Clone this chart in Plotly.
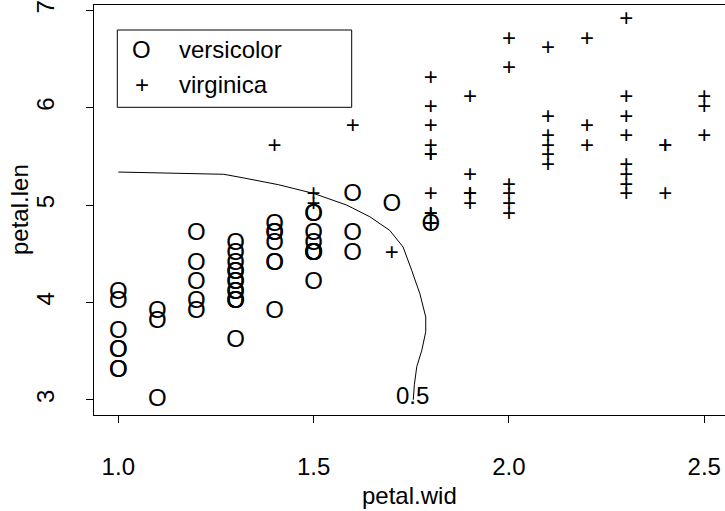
import plotly.graph_objects as go

# iris: versicolor
versicolor_wid = [1.4,1.5,1.5,1.3,1.5,1.3,1.6,1.0,1.3,1.4,1.0,1.5,1.0,1.4,1.3,1.4,1.5,1.0,1.5,1.1,
                  1.8,1.3,1.5,1.2,1.3,1.4,1.4,1.7,1.5,1.0,1.1,1.0,1.2,1.6,1.5,1.6,1.5,1.3,1.3,1.3,
                  1.2,1.4,1.2,1.0,1.3,1.2,1.3,1.3,1.1,1.3]
versicolor_len = [4.7,4.5,4.9,4.0,4.6,4.5,4.7,3.3,4.6,3.9,3.5,4.2,4.0,4.7,3.6,4.4,4.5,4.1,4.5,3.9,
                  4.8,4.0,4.9,4.7,4.3,4.4,4.8,5.0,4.5,3.5,3.8,3.7,3.9,5.1,4.5,4.5,4.7,4.4,4.1,4.0,
                  4.4,4.6,4.0,3.3,4.2,4.2,4.2,4.3,3.0,4.1]
# iris: virginica
virginica_wid = [2.5,1.9,2.1,1.8,2.2,2.1,1.7,1.8,1.8,2.5,2.0,1.9,2.1,2.0,2.4,2.3,1.8,2.2,2.3,1.5,
                 2.3,2.0,2.0,1.8,2.1,1.8,1.8,1.8,2.1,1.6,1.9,2.0,2.2,1.5,1.4,2.3,2.4,1.8,1.8,2.1,
                 2.4,2.3,1.9,2.3,2.5,2.3,1.9,2.0,2.3,1.8]
virginica_len = [6.0,5.1,5.9,5.6,5.8,6.6,4.5,6.3,5.8,6.1,5.1,5.3,5.5,5.0,5.1,5.3,5.5,6.7,6.9,5.0,
                 5.7,4.9,6.7,4.9,5.7,6.0,4.8,4.9,5.6,5.8,6.1,6.4,5.6,5.1,5.6,6.1,5.6,5.5,4.8,5.4,
                 5.6,5.1,5.1,5.9,5.7,5.2,5.0,5.2,5.4,5.1]

# 0.5 probability contour
contour_wid = [1.00,1.10,1.20,1.27,1.32,1.37,1.41,1.45,1.50,1.585,1.644,1.695,1.729,1.751,1.772,
               1.787,1.787,1.777,1.764,1.758,1.755]
contour_len = [5.34,5.33,5.325,5.317,5.28,5.24,5.21,5.17,5.12,5.00,4.88,4.74,4.57,4.33,4.09,
               3.85,3.70,3.51,3.34,3.16,3.00]
contour_level = "0.5"
contour_label_pos = (1.754, 3.04)

x_ticks = [1.0, 1.5, 2.0, 2.5]
x_ticklabels = ["1.0", "1.5", "2.0", "2.5"]
y_ticks = [3, 4, 5, 6, 7]
y_ticklabels = ["3", "4", "5", "6", "7"]

FONT = "Liberation Sans, Arial, Helvetica, sans-serif"
FS = 24

fig = go.Figure()
fig.add_trace(go.Scatter(x=contour_wid, y=contour_len, mode="lines",
                         line=dict(color="black", width=1), showlegend=False, hoverinfo="skip"))
fig.add_trace(go.Scatter(x=versicolor_wid, y=versicolor_len, mode="text", text=["O"] * len(versicolor_wid),
                         textfont=dict(family=FONT, size=FS, color="black"), showlegend=False,
                         name="versicolor"))
fig.add_trace(go.Scatter(x=virginica_wid, y=virginica_len, mode="text", text=["+"] * len(virginica_wid),
                         textfont=dict(family=FONT, size=FS, color="black"), showlegend=False,
                         name="virginica"))

annotations = [
    dict(x=contour_label_pos[0], y=contour_label_pos[1], xref="x", yref="y", text=contour_level,
         showarrow=False, font=dict(family=FONT, size=FS, color="black"), xanchor="center", yanchor="middle"),
    # legend
    dict(x=(141 - 94) / 631, y=(415 - 50) / 410, xref="paper", yref="paper", text="O", showarrow=False,
         font=dict(family=FONT, size=FS, color="black"), xanchor="center", yanchor="middle"),
    dict(x=(141.5 - 94) / 631, y=(415 - 85) / 410, xref="paper", yref="paper", text="+", showarrow=False,
         font=dict(family=FONT, size=FS, color="black"), xanchor="center", yanchor="middle"),
    dict(x=(177 - 94) / 631, y=(415 - 50) / 410, xref="paper", yref="paper", text="versicolor", showarrow=False,
         font=dict(family=FONT, size=FS, color="black"), xanchor="left", yanchor="middle"),
    dict(x=(177 - 94) / 631, y=(415 - 85) / 410, xref="paper", yref="paper", text="virginica", showarrow=False,
         font=dict(family=FONT, size=FS, color="black"), xanchor="left", yanchor="middle"),
    # axis titles
    dict(x=0.5, y=0, xref="paper", yref="paper", text="petal.wid", showarrow=False,
         font=dict(family=FONT, size=FS, color="black"), xanchor="center", yanchor="middle", yshift=-80),
    dict(x=0, y=0.5, xref="paper", yref="paper", text="petal.len", showarrow=False, textangle=-90,
         font=dict(family=FONT, size=FS, color="black"), xanchor="center", yanchor="middle", xshift=-75),
]

shapes = [
    dict(type="rect", xref="paper", yref="paper",
         x0=(117.3 - 94) / 631, x1=(351.7 - 94) / 631,
         y0=(415 - 107.3) / 410, y1=(415 - 30) / 410,
         line=dict(color="black", width=1), fillcolor="rgba(0,0,0,0)"),
]

fig.update_layout(
    width=725, height=511,
    margin=dict(l=94, r=0, t=5, b=96),
    paper_bgcolor="white", plot_bgcolor="white",
    font=dict(family=FONT, size=FS, color="black"),
    annotations=annotations, shapes=shapes,
    showlegend=False,
    xaxis=dict(range=[0.9378, 2.553], tickvals=x_ticks, ticktext=x_ticklabels,
               showline=True, mirror=True, linecolor="black", linewidth=1,
               ticks="outside", ticklen=7, tickcolor="black", tickwidth=1,
               showgrid=False, zeroline=False, ticklabelstandoff=23,
               tickfont=dict(family=FONT, size=FS, color="black")),
    yaxis=dict(range=[2.844, 7.056], tickvals=y_ticks, ticktext=y_ticklabels,
               showline=True, mirror=False, linecolor="black", linewidth=1,
               ticks="outside", ticklen=7, tickcolor="black", tickwidth=1,
               showgrid=False, zeroline=False, tickangle=-90, ticklabelstandoff=22,
               tickfont=dict(family=FONT, size=FS, color="black")),
)

fig.write_html("out.html",
               config={"displayModeBar": False},
               post_script="document.body.style.margin='0px';document.body.style.padding='0px';"
                           "document.body.style.overflow='hidden';")
